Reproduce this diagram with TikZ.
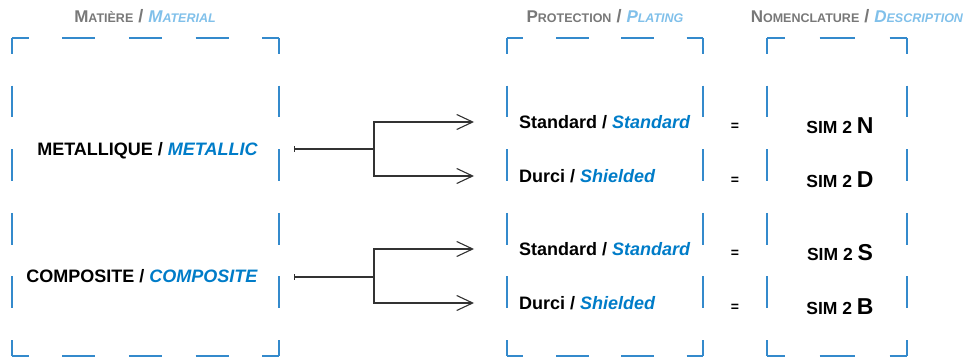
\documentclass[tikz,border=0pt]{standalone}
\usepackage{fontspec}
\setmainfont{Liberation Sans}
\usetikzlibrary{arrows.meta}

\definecolor{frameblue}{RGB}{52,138,204}
\definecolor{textblue}{RGB}{0,124,200}
\definecolor{headblue}{RGB}{128,192,234}
\definecolor{headgray}{RGB}{120,120,120}
\definecolor{linkgray}{RGB}{50,50,50}

\newcommand{\en}[1]{\textcolor{textblue}{\textit{#1}}}
\newcommand{\hen}[1]{\textcolor{headblue}{\textit{#1}}}
\newcommand{\fakesc}[2]{{\fontsize{17}{17}\selectfont #1}{\fontsize{12.5}{12.5}\selectfont #2}}
\newcommand{\simref}[1]{{\fontsize{17.5}{17.5}\selectfont SIM 2 }{\fontsize{23}{23}\selectfont #1}}
% dashed frame: x1, y1, x2, y2, periods across, periods down
\newcommand{\dashframe}[6]{%
  \pgfmathsetmacro{\hd}{(#3-#1)/#5/2}\pgfmathsetmacro{\hq}{\hd/2}%
  \pgfmathsetmacro{\vd}{(#4-#2)/#6/2}\pgfmathsetmacro{\vq}{\vd/2}%
  \draw[frameline,dash pattern=on \hd pt off \hd pt,dash phase=\hq pt] (#1,#2) -- (#3,#2) (#1,#4) -- (#3,#4);
  \draw[frameline,dash pattern=on \vd pt off \vd pt,dash phase=\vq pt] (#1,#2) -- (#1,#4) (#3,#2) -- (#3,#4);
}

\begin{document}
\begin{tikzpicture}[x=1pt,y=-1pt,font=\bfseries\fontsize{18}{20}\selectfont]
  \tikzset{frameline/.style={frameblue,line width=1.2pt}}
  \tikzset{head/.style={anchor=base,headgray,inner sep=0pt}}
  \tikzset{body/.style={inner sep=0pt}}
  \tikzset{equal/.style={anchor=base,inner sep=0pt,font=\bfseries\fontsize{14}{14}\selectfont}}
  \tikzset{link/.style={linkgray,line width=1.1pt}}
  \useasboundingbox (0,0) rectangle (967,358);

  % column frames
  \dashframe{12}{38}{279}{356}{4}{5}
  \dashframe{507}{38}{703}{356}{3}{5}
  \dashframe{767}{38}{907}{356}{2}{5}

  % headings
  \node[head] (mat-head) at (145,23) {\fakesc{M}{ATIÈRE} / \hen{\fakesc{M}{ATERIAL}}};
  \node[head] (plat-head) at (605,23) {\fakesc{P}{ROTECTION} / \hen{\fakesc{P}{LATING}}};
  \node[head] (desc-head) at (857,23) {\fakesc{N}{OMENCLATURE} / \hen{\fakesc{D}{ESCRIPTION}}};

  % materials
  \node[body,anchor=base east] (met) at (258,156) {METALLIQUE / \en{METALLIC}};
  \node[body,anchor=base east] (com) at (258,283) {COMPOSITE / \en{COMPOSITE}};

  % platings
  \node[body,anchor=base west] (met-std) at (519,129) {Standard / \en{Standard}};
  \node[body,anchor=base west] (met-dur) at (519,183) {Durci / \en{Shielded}};
  \node[body,anchor=base west] (com-std) at (519,256) {Standard / \en{Standard}};
  \node[body,anchor=base west] (com-dur) at (519,309) {Durci / \en{Shielded}};

  % equals and references
  \node[equal] (eq-n) at (735,131) {=};
  \node[equal] (eq-d) at (735,185) {=};
  \node[equal] (eq-s) at (735,258) {=};
  \node[equal] (eq-b) at (735,312) {=};
  \node[body,anchor=base] (sim-n) at (840,134) {\simref{N}};
  \node[body,anchor=base] (sim-d) at (840,188) {\simref{D}};
  \node[body,anchor=base] (sim-s) at (840,261) {\simref{S}};
  \node[body,anchor=base] (sim-b) at (840,315) {\simref{B}};

  % forks
  \foreach \name/\y/\up/\down in {met/149/122/176, com/277/249/303} {
    \coordinate (\name-out) at (294,\y);
    \coordinate (\name-fork) at (374,\y);
    \coordinate (\name-std-in) at (474,\up);
    \coordinate (\name-dur-in) at (474,\down);
    \draw[link,{Bar[width=6pt]}-] (\name-out) -- (\name-fork);
    \draw[link,-{Straight Barb[length=16pt,width=15pt]}] (\name-fork) |- (\name-std-in);
    \draw[link,-{Straight Barb[length=16pt,width=15pt]}] (\name-fork) |- (\name-dur-in);
  }
\end{tikzpicture}
\end{document}
